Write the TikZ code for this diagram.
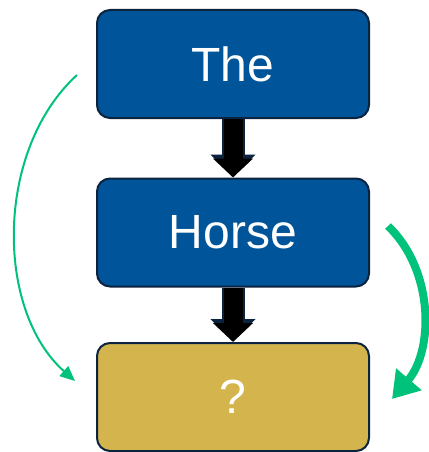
\documentclass[tikz,border=0pt]{standalone}
\usepackage{fontspec}
\setmainfont{Liberation Sans}
\usetikzlibrary{arrows.meta}
\definecolor{boxblue}{RGB}{0,84,153}
\definecolor{boxgold}{RGB}{211,180,77}
\definecolor{boxline}{RGB}{12,35,64}
\definecolor{arcgreen}{RGB}{0,194,122}
\begin{document}
\begin{tikzpicture}[
          x=1pt, y=-1pt,
          every node/.style={rounded corners=13pt, draw=boxline, line width=2pt,
            minimum width=272pt, minimum height=108pt, text=white,
            font=\fontsize{48}{58}\selectfont},
          word/.style={fill=boxblue},
          guess/.style={fill=boxgold},
          shaftout/.style={draw=boxline, line width=23pt,
            -{Triangle[length=22pt, width=44pt]}},
          shaftin/.style={draw=black, line width=19pt,
            -{Triangle[length=19pt, width=39pt]}},
          skip/.style={draw=arcgreen, line width=2pt,
            -{Triangle[length=15pt, width=13pt]}},
          near/.style={draw=arcgreen, line width=8pt,
            -{Triangle[length=26pt, width=32pt]}}
        ]
        \useasboundingbox (0,0) rectangle (428,452);
        % 1
        \node[word] (the) at (233,64) {The};
        % 2
        \node[word] (horse) at (233,232.5) {Horse};
        % 3
        \node[guess] (query) at (233,397) {?};
        % block arrows
        \draw[shaftout] (the.south) -- ([yshift=1pt]horse.north);
        \draw[shaftin] (the.south) -- (horse.north);
        \draw[shaftout] (horse.south) -- ([yshift=1pt]query.north);
        \draw[shaftin] (horse.south) -- (query.north);
        % green arcs
        \coordinate (skipstart) at (77,75);
        \coordinate (skipend) at (75,381);
        \coordinate (nearstart) at (388,226);
        \coordinate (nearend) at (392,399);
        \draw[skip] (skipstart) .. controls (-5,150) and (-5,310) .. (skipend);
        \draw[near] (nearstart) .. controls (434,270) and (434,350) .. (nearend);
      \end{tikzpicture}
\end{document}
